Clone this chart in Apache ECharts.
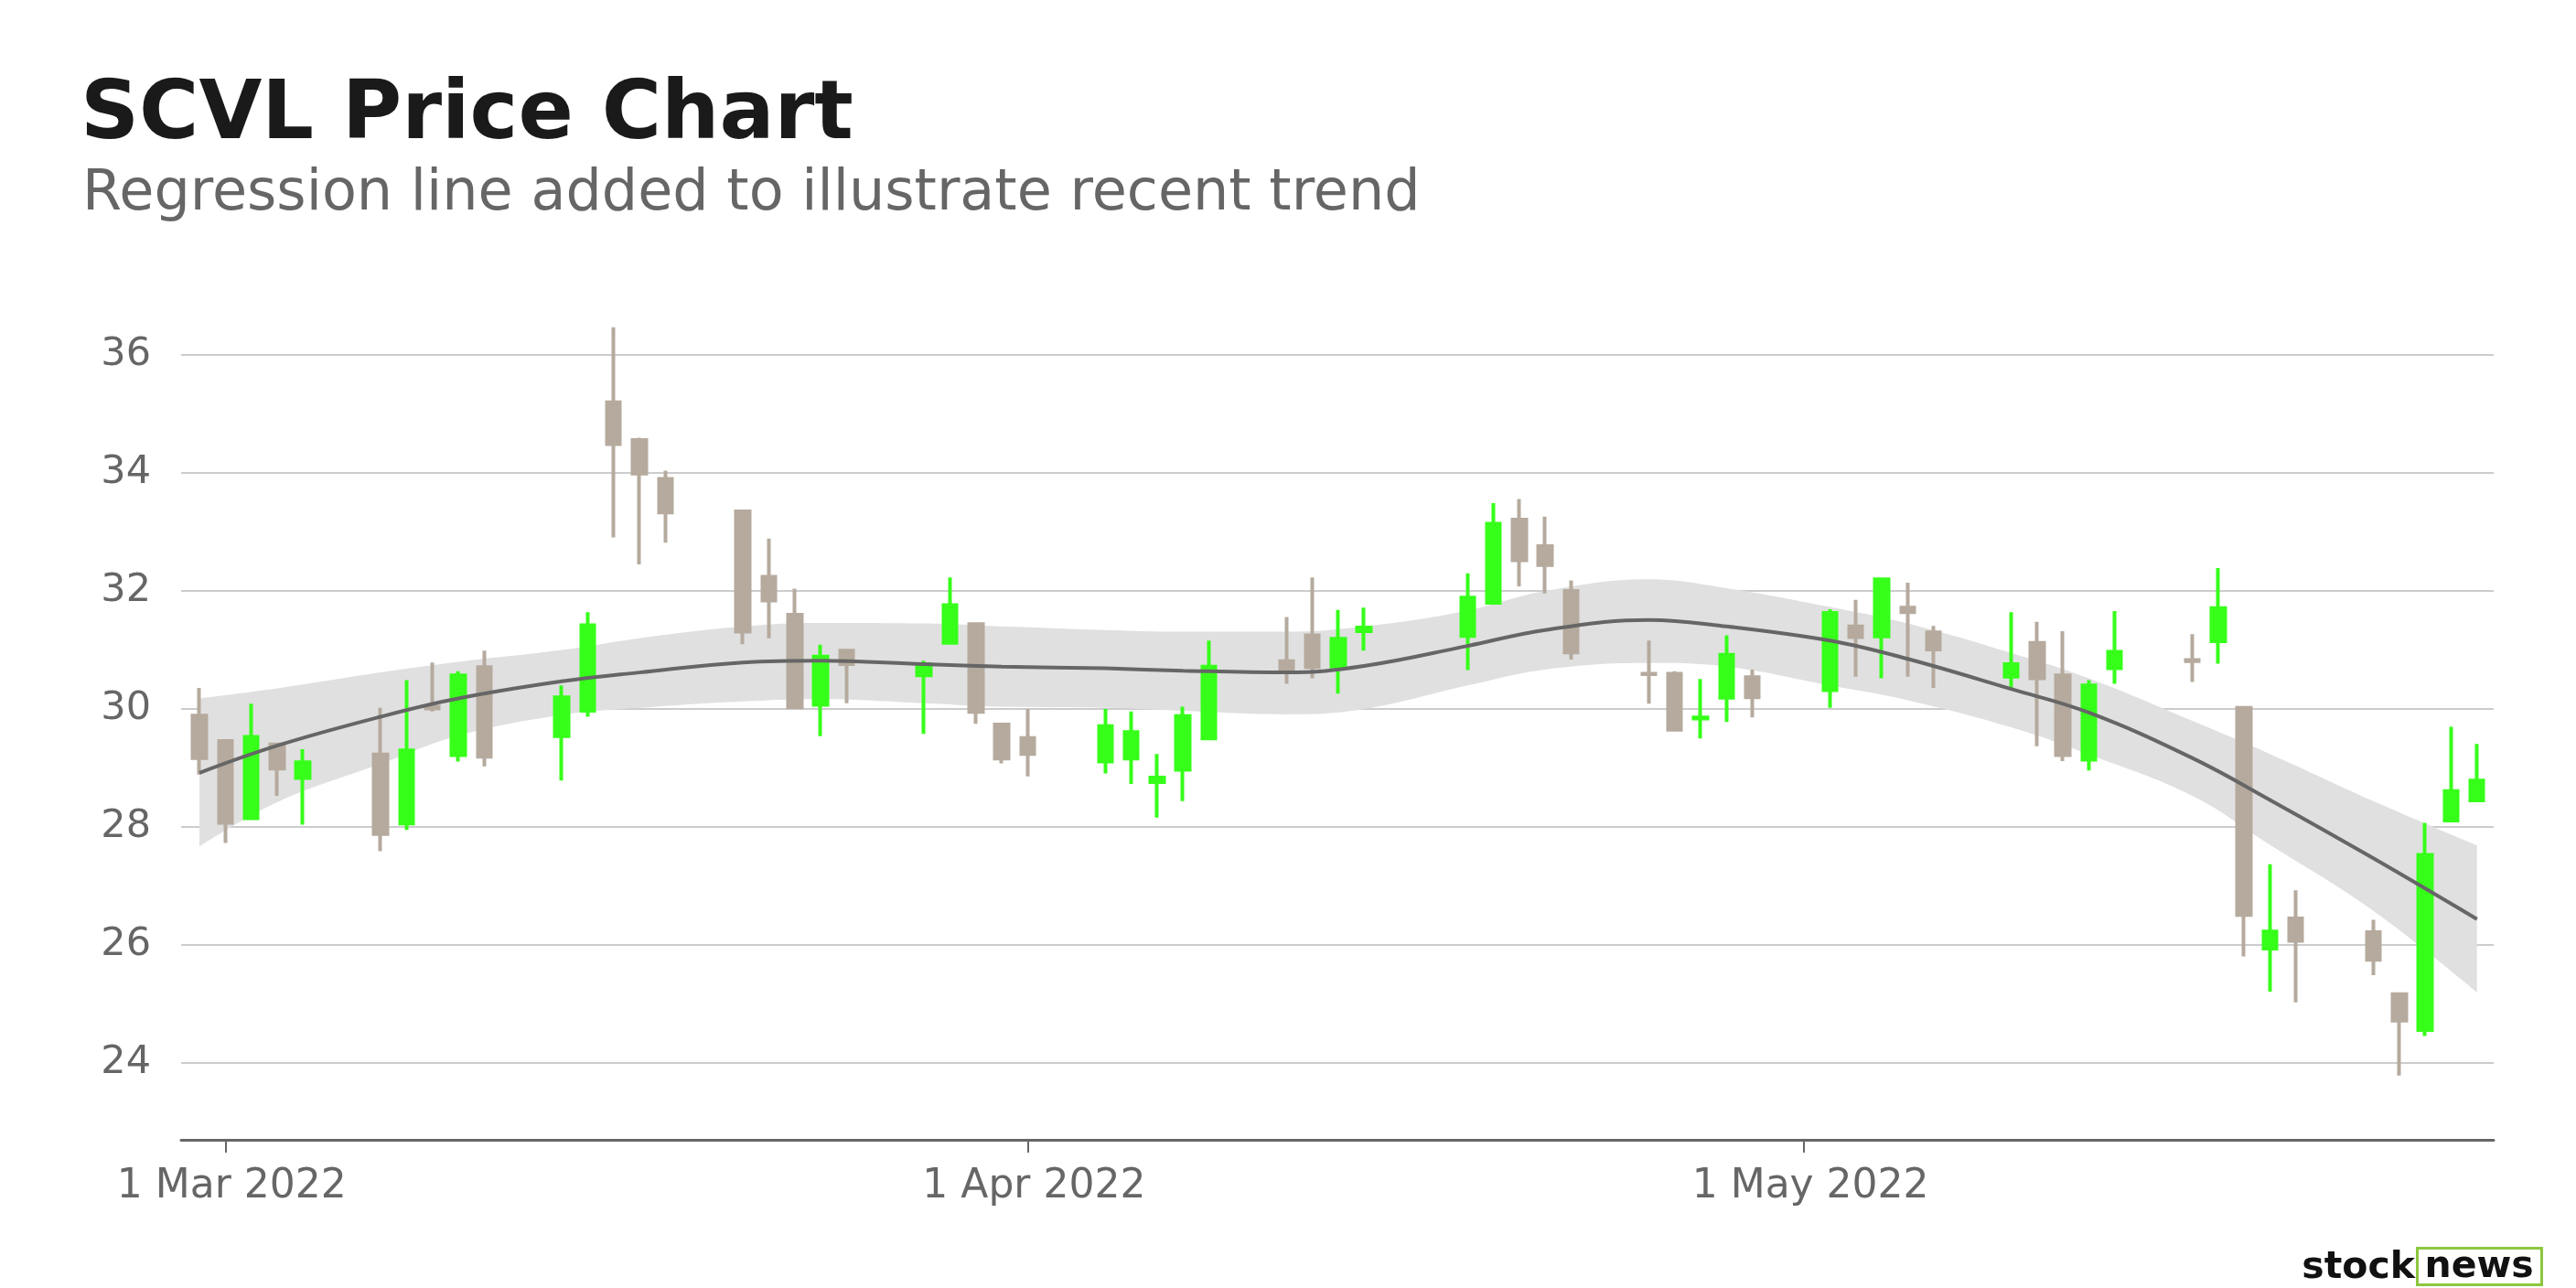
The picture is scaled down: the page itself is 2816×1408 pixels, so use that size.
<!DOCTYPE html>
<html>
<head>
<meta charset="utf-8">
<title>SCVL Price Chart</title>
<script src="https://cdn.jsdelivr.net/npm/echarts@6/dist/echarts.min.js"></script>
<style>
html, body { margin: 0; padding: 0; background: #ffffff; }
#main { width: 2816px; height: 1408px; }
</style>
</head>
<body>
<div id="main"></div>
<script>
// daily candles (trading days only)
var dates = ['2022-02-28', '2022-03-01', '2022-03-02', '2022-03-03', '2022-03-04',
  '2022-03-07', '2022-03-08', '2022-03-09', '2022-03-10', '2022-03-11',
  '2022-03-14', '2022-03-15', '2022-03-16', '2022-03-17', '2022-03-18',
  '2022-03-21', '2022-03-22', '2022-03-23', '2022-03-24', '2022-03-25',
  '2022-03-28', '2022-03-29', '2022-03-30', '2022-03-31', '2022-04-01',
  '2022-04-04', '2022-04-05', '2022-04-06', '2022-04-07', '2022-04-08',
  '2022-04-11', '2022-04-12', '2022-04-13', '2022-04-14',
  '2022-04-18', '2022-04-19', '2022-04-20', '2022-04-21', '2022-04-22',
  '2022-04-25', '2022-04-26', '2022-04-27', '2022-04-28', '2022-04-29',
  '2022-05-02', '2022-05-03', '2022-05-04', '2022-05-05', '2022-05-06',
  '2022-05-09', '2022-05-10', '2022-05-11', '2022-05-12', '2022-05-13',
  '2022-05-16', '2022-05-17', '2022-05-18', '2022-05-19', '2022-05-20',
  '2022-05-23', '2022-05-24', '2022-05-25', '2022-05-26', '2022-05-27']
var opens = [29.89, 29.46, 28.15, 29.40, 28.83, 29.23, 28.06, 30.04, 29.22, 30.71,
  29.54, 29.97, 35.20, 34.56, 33.90, 33.35, 32.24, 31.60, 30.07, 30.99,
  30.57, 31.12, 31.44, 29.74, 29.51, 29.11, 29.16, 28.76, 28.97, 29.50,
  30.81, 31.25, 30.72, 31.32, 31.24, 31.80, 33.21, 32.76, 32.00, 30.60,
  30.60, 29.84, 30.19, 30.54, 30.32, 31.40, 31.23, 31.72, 31.30, 30.55,
  31.12, 30.57, 29.14, 30.69, 30.83, 31.15, 30.02, 25.94, 26.45, 26.22,
  25.17, 24.56, 28.11, 28.45]
var closes = [29.17, 28.07, 29.53, 28.99, 29.10, 27.88, 29.30, 30.01, 30.57, 29.19,
  30.20, 31.42, 34.49, 33.99, 33.33, 31.31, 31.84, 30.03, 30.89, 30.76,
  30.76, 31.76, 29.95, 29.16, 29.24, 29.71, 29.61, 28.84, 29.88, 30.72,
  30.66, 30.71, 31.19, 31.38, 31.89, 33.14, 32.52, 32.44, 30.96, 30.59,
  29.65, 29.86, 30.92, 30.20, 31.63, 31.22, 32.20, 31.64, 31.01, 30.76,
  30.52, 29.22, 30.40, 30.97, 30.81, 31.71, 26.51, 26.23, 26.07, 25.75,
  24.72, 27.53, 28.61, 28.79]
var highs = [30.36, 29.47, 30.09, 29.42, 29.32, 30.02, 30.49, 30.79, 30.64, 30.99,
  30.40, 31.64, 36.47, 34.60, 34.04, 33.36, 32.89, 32.04, 31.09, 31.00,
  30.82, 32.23, 31.45, 29.75, 30.00, 30.00, 29.96, 29.24, 30.04, 31.16,
  31.56, 32.23, 31.68, 31.72, 32.30, 33.49, 33.56, 33.26, 32.18, 31.16,
  30.64, 30.51, 31.25, 30.67, 31.69, 31.85, 32.23, 32.14, 31.41, 31.64,
  31.48, 31.32, 30.49, 31.66, 31.27, 32.39, 30.03, 27.37, 26.93, 26.43,
  25.18, 28.07, 29.70, 29.41]
var lows = [28.89, 27.73, 28.13, 28.53, 28.04, 27.59, 27.95, 29.96, 29.11, 29.03,
  28.79, 29.87, 32.91, 32.45, 32.82, 31.10, 31.20, 30.02, 29.54, 30.10,
  29.58, 31.10, 29.75, 29.08, 28.86, 28.91, 28.73, 28.16, 28.44, 29.49,
  30.43, 30.52, 30.26, 30.99, 30.66, 31.79, 32.08, 31.96, 30.84, 30.09,
  29.62, 29.50, 29.78, 29.86, 30.02, 30.55, 30.52, 30.55, 30.36, 30.31,
  29.37, 29.12, 28.96, 30.43, 30.46, 30.77, 25.81, 25.21, 25.03, 25.49,
  23.79, 24.46, 28.10, 28.44]

// smoothed trend line and its confidence band
var trendDates = ['2022-02-28', '2022-03-03', '2022-03-07', '2022-03-10', '2022-03-14',
  '2022-03-17', '2022-03-21', '2022-03-24', '2022-03-28', '2022-03-31',
  '2022-04-04', '2022-04-07', '2022-04-11', '2022-04-14', '2022-04-18',
  '2022-04-21', '2022-04-25', '2022-04-28', '2022-05-02', '2022-05-05',
  '2022-05-09', '2022-05-12', '2022-05-16', '2022-05-19', '2022-05-23', '2022-05-27']
var trendValues = [28.92, 29.38, 29.87, 30.18, 30.47, 30.62, 30.79, 30.82, 30.76, 30.72,
  30.69, 30.65, 30.62, 30.73, 31.07, 31.34, 31.51, 31.40, 31.16, 30.85,
  30.34, 29.94, 29.17, 28.46, 27.47, 26.44]
var bandUpper = [30.18, 30.35, 30.62, 30.80, 31.00, 31.20, 31.40, 31.46, 31.45, 31.40,
  31.34, 31.31, 31.31, 31.40, 31.67, 32.00, 32.20, 32.05, 31.73, 31.45,
  30.95, 30.52, 29.80, 29.24, 28.44, 27.69]
var bandLower = [27.67, 28.42, 29.07, 29.55, 29.90, 30.02, 30.13, 30.17, 30.10, 30.04,
  30.02, 29.97, 29.91, 30.00, 30.40, 30.67, 30.78, 30.72, 30.40, 30.15,
  29.69, 29.23, 28.53, 27.70, 26.58, 25.20]

var yTicks = [24, 26, 28, 30, 32, 34, 36]
var monthNames = ['Jan', 'Feb', 'Mar', 'Apr', 'May', 'Jun', 'Jul', 'Aug', 'Sep', 'Oct', 'Nov', 'Dec']

var FONT = 'DejaVu Sans'
var UP = '#36ff1a'
var DOWN = '#b5aa9d'
var DAY = 24 * 3600 * 1000

var candleData = dates.map(function (d, i) {
  return [d, opens[i], closes[i], lows[i], highs[i]]
})
var lowerData = trendDates.map(function (d, i) { return [d, bandLower[i]] })
var spanData = trendDates.map(function (d, i) { return [d, +(bandUpper[i] - bandLower[i]).toFixed(2)] })
var trendData = trendDates.map(function (d, i) { return [d, trendValues[i]] })

var chart = echarts.init(document.getElementById('main'), null, { renderer: 'canvas' })

chart.setOption({
  animation: false,
  backgroundColor: '#ffffff',
  title: [
    {
      text: 'SCVL Price Chart',
      left: 88,
      top: 83,
      padding: 0,
      textStyle: { fontFamily: FONT, fontSize: 89, fontWeight: 'bold', color: '#1a1a1a' }
    },
    {
      text: 'Regression line added to illustrate recent trend',
      left: 90,
      top: 182,
      padding: 0,
      textStyle: { fontFamily: FONT, fontSize: 62, fontWeight: 'normal', color: '#666666' }
    }
  ],
  grid: { left: 198, right: 90, top: 321, bottom: 162, containLabel: false },
  xAxis: {
    type: 'time',
    min: '2022-02-27 07:00',
    max: '2022-05-27 15:30',
    minInterval: 28 * DAY,
    splitLine: { show: false },
    axisLine: { show: true, lineStyle: { color: '#666666', width: 3 } },
    axisTick: { show: true, length: 14, lineStyle: { color: '#666666', width: 2 } },
    axisLabel: {
      margin: 30,
      padding: [0, 0, 0, 14],
      color: '#666666',
      fontFamily: FONT,
      fontSize: 44,
      hideOverlap: false,
      formatter: function (v) {
        var d = new Date(v)
        if (d.getDate() !== 1) return ''
        return d.getDate() + ' ' + monthNames[d.getMonth()] + ' ' + d.getFullYear()
      }
    }
  },
  yAxis: {
    type: 'value',
    min: 22.7,
    max: 37.04,
    axisLine: { show: false },
    axisTick: { show: false, customValues: yTicks },
    axisLabel: { customValues: yTicks, margin: 33, color: '#666666', fontFamily: FONT, fontSize: 43 },
    splitLine: { show: true, lineStyle: { color: '#cccccc', width: 2 } }
  },
  series: [
    {
      name: 'band-lower',
      type: 'line',
      data: lowerData,
      stack: 'band',
      smooth: 0.4,
      symbol: 'none',
      silent: true,
      lineStyle: { opacity: 0 },
      z: 1
    },
    {
      name: 'band',
      type: 'line',
      data: spanData,
      stack: 'band',
      smooth: 0.4,
      symbol: 'none',
      silent: true,
      lineStyle: { opacity: 0 },
      areaStyle: { color: '#e0e0e0', opacity: 1 },
      z: 1
    },
    {
      name: 'SCVL',
      type: 'candlestick',
      data: candleData,
      encode: { x: 0, y: [1, 2, 3, 4] },
      barWidth: 15,
      itemStyle: {
        color: UP,
        color0: DOWN,
        borderColor: UP,
        borderColor0: DOWN,
        borderColorDoji: DOWN,
        borderWidth: 4
      },
      z: 2
    },
    {
      name: 'trend',
      type: 'line',
      data: trendData,
      smooth: 0.4,
      symbol: 'none',
      silent: true,
      lineStyle: { color: '#666666', width: 4 },
      z: 3
    }
  ],
  graphic: [
    {
      type: 'text',
      right: 176,
      bottom: 1,
      style: { text: 'stock', font: 'bold 41px "DejaVu Sans"', fill: '#111111' }
    },
    {
      type: 'group',
      right: 36,
      bottom: 2,
      children: [
        {
          type: 'rect',
          shape: { x: 0, y: 0, width: 136, height: 40 },
          style: { fill: '#ffffff', stroke: '#8cc63f', lineWidth: 3 }
        },
        {
          type: 'text',
          x: 8,
          y: 0,
          style: { text: 'news', font: 'bold 41px "DejaVu Sans"', fill: '#111111' }
        }
      ]
    }
  ]
})
</script>
</body>
</html>
